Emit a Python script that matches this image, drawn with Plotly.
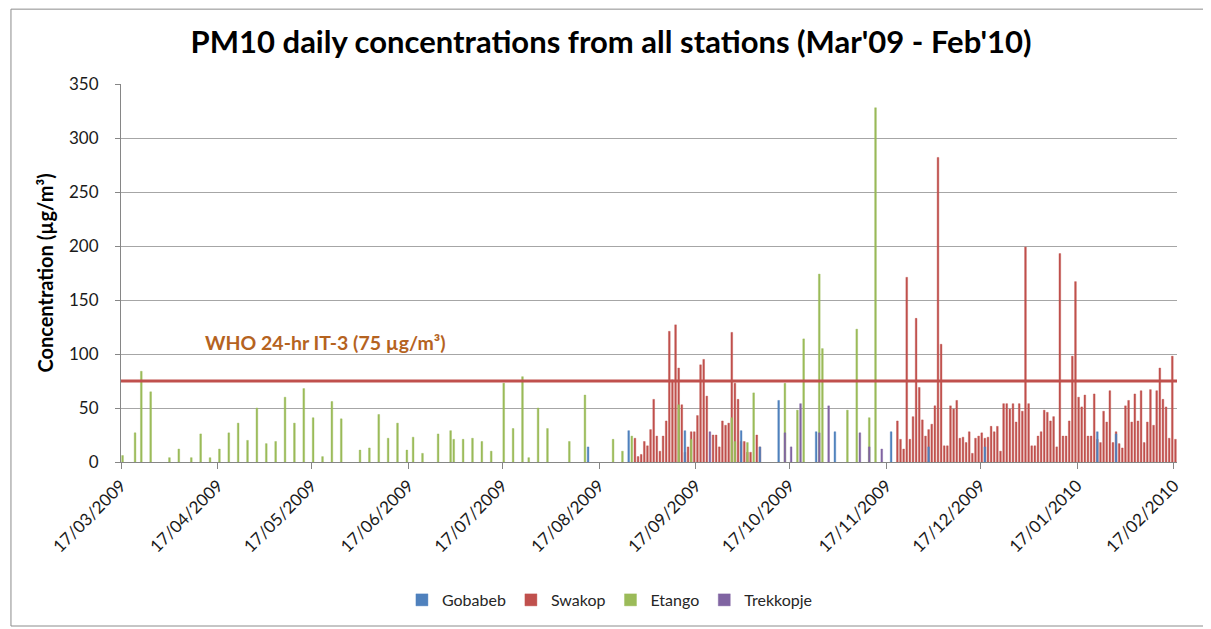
import plotly.graph_objects as go

# ---------------- data ----------------
gobabeb_dates = ["2009-08-13", "2009-08-26", "2009-09-13", "2009-10-01", "2009-10-07", "2009-10-13",
                 "2009-10-25", "2009-10-31", "2009-11-18", "2009-11-30", "2009-12-18", "2010-01-23",
                 "2010-01-29"]
gobabeb_values = [14, 29, 29, 29, 14, 57, 28, 28, 28, 14, 14, 28, 26]

swakop_dates = [
    "2009-08-28", "2009-08-29", "2009-08-30", "2009-08-31", "2009-09-01", "2009-09-02", "2009-09-03",
    "2009-09-04", "2009-09-05", "2009-09-06", "2009-09-07", "2009-09-08", "2009-09-09", "2009-09-10",
    "2009-09-11", "2009-09-12", "2009-09-13", "2009-09-14", "2009-09-15", "2009-09-16", "2009-09-17",
    "2009-09-18", "2009-09-19", "2009-09-20", "2009-09-22", "2009-09-23", "2009-09-24", "2009-09-25",
    "2009-09-26", "2009-09-27", "2009-09-28", "2009-09-29", "2009-09-30", "2009-10-01", "2009-10-02",
    "2009-10-03", "2009-10-04", "2009-10-06", "2009-10-07",
    "2009-11-20", "2009-11-21", "2009-11-22", "2009-11-23", "2009-11-24", "2009-11-25", "2009-11-26",
    "2009-11-27", "2009-11-28", "2009-11-29", "2009-11-30", "2009-12-01", "2009-12-02", "2009-12-03",
    "2009-12-04", "2009-12-05", "2009-12-06", "2009-12-07", "2009-12-08", "2009-12-09", "2009-12-10",
    "2009-12-11", "2009-12-12", "2009-12-13", "2009-12-14", "2009-12-15", "2009-12-16", "2009-12-17",
    "2009-12-18", "2009-12-19", "2009-12-20", "2009-12-21", "2009-12-22", "2009-12-23", "2009-12-24",
    "2009-12-25", "2009-12-26", "2009-12-27", "2009-12-28", "2009-12-29", "2009-12-30", "2009-12-31",
    "2010-01-01", "2010-01-02", "2010-01-03", "2010-01-04", "2010-01-05", "2010-01-06", "2010-01-07",
    "2010-01-08", "2010-01-09", "2010-01-10", "2010-01-11", "2010-01-12", "2010-01-13", "2010-01-14",
    "2010-01-15", "2010-01-16", "2010-01-17", "2010-01-18", "2010-01-19", "2010-01-20", "2010-01-21",
    "2010-01-22", "2010-01-23", "2010-01-24", "2010-01-25", "2010-01-26", "2010-01-27", "2010-01-28",
    "2010-01-29", "2010-01-30", "2010-01-31", "2010-02-01", "2010-02-02", "2010-02-03", "2010-02-04",
    "2010-02-05", "2010-02-06", "2010-02-07", "2010-02-08", "2010-02-09", "2010-02-10", "2010-02-11",
    "2010-02-12", "2010-02-13", "2010-02-14", "2010-02-15", "2010-02-16", "2010-02-17"]
swakop_values = [
    22, 5, 7, 19, 15, 30, 58,
    24, 10, 24, 38, 121, 76, 127,
    87, 53, 9, 14, 28, 28, 43,
    90, 95, 61, 25, 25, 14, 38,
    34, 36, 120, 73, 58, 19, 19,
    9, 9, 25, 14,
    38, 21, 12, 171, 21, 42, 133,
    69, 39, 24, 30, 35, 52, 282,
    109, 15, 15, 52, 49, 57, 22,
    23, 18, 28, 8, 22, 24, 27,
    22, 23, 33, 28, 33, 10, 54,
    54, 49, 54, 37, 54, 47, 199,
    54, 15, 15, 24, 28, 48, 46,
    38, 42, 14, 193, 24, 24, 38,
    98, 167, 60, 51, 62, 24, 24,
    63, 21, 18, 47, 37, 66, 18,
    28, 17, 13, 52, 57, 37, 63,
    38, 66, 18, 37, 67, 34, 66,
    87, 58, 51, 22, 98, 21]

etango_dates = [
    "2009-03-17", "2009-03-21", "2009-03-23", "2009-03-26", "2009-04-01", "2009-04-04", "2009-04-08",
    "2009-04-11", "2009-04-14", "2009-04-17", "2009-04-20", "2009-04-23", "2009-04-26", "2009-04-29",
    "2009-05-02", "2009-05-05", "2009-05-08", "2009-05-11", "2009-05-14", "2009-05-17", "2009-05-20",
    "2009-05-23", "2009-05-26", "2009-06-01", "2009-06-04", "2009-06-07", "2009-06-10", "2009-06-13",
    "2009-06-16", "2009-06-18", "2009-06-21", "2009-06-26", "2009-06-30", "2009-07-01", "2009-07-04",
    "2009-07-07", "2009-07-10", "2009-07-13", "2009-07-17", "2009-07-20", "2009-07-23", "2009-07-25",
    "2009-07-28", "2009-07-31", "2009-08-07", "2009-08-12", "2009-08-21", "2009-08-24", "2009-08-27",
    "2009-09-11", "2009-09-15", "2009-09-28", "2009-09-29", "2009-10-03", "2009-10-05", "2009-10-15",
    "2009-10-19", "2009-10-21", "2009-10-26", "2009-10-27", "2009-11-04", "2009-11-07", "2009-11-11",
    "2009-11-13"]
etango_values = [
    6, 27, 84, 65, 4, 12, 4,
    26, 4, 12, 27, 36, 20, 50,
    17, 19, 60, 36, 68, 41, 5,
    56, 40, 11, 13, 44, 22, 36,
    11, 23, 8, 26, 29, 21, 21,
    22, 19, 10, 73, 31, 79, 4,
    50, 31, 19, 62, 21, 10, 24,
    53, 21, 41, 19, 18, 64, 73,
    48, 114, 174, 105, 48, 123, 41,
    328]

trekkopje_dates = ["2009-09-21", "2009-10-15", "2009-10-17", "2009-10-20", "2009-10-26", "2009-10-29",
                   "2009-11-08", "2009-11-11", "2009-11-15"]
trekkopje_values = [28, 27, 14, 54, 27, 52, 27, 14, 12]

who_limit = 75
who_label = "WHO 24-hr IT-3 (75 µg/m³)"

tick_dates = ["2009-03-17", "2009-04-17", "2009-05-17", "2009-06-17", "2009-07-17", "2009-08-17",
              "2009-09-17", "2009-10-17", "2009-11-17", "2009-12-17", "2010-01-17", "2010-02-17"]
tick_labels = ["17/03/2009", "17/04/2009", "17/05/2009", "17/06/2009", "17/07/2009", "17/08/2009",
               "17/09/2009", "17/10/2009", "17/11/2009", "17/12/2009", "17/01/2010", "17/02/2010"]

# ---------------- figure ----------------
DAY_MS = 86400000
FONT = "Lato, 'Open Sans', sans-serif"

series = [
    # name, dates, values, colour, legend rank
    ("Swakop", swakop_dates, swakop_values, "#C0504D", 2),
    ("Etango", etango_dates, etango_values, "#9BBB59", 3),
    ("Gobabeb", gobabeb_dates, gobabeb_values, "#4F81BD", 1),
    ("Trekkopje", trekkopje_dates, trekkopje_values, "#8064A2", 4),
]

fig = go.Figure()
for name, dates, vals, col, rank in series:
    fig.add_trace(go.Bar(
        x=dates, y=vals, name=name,
        xperiod=DAY_MS, xperiodalignment="middle",
        width=0.55 * DAY_MS,
        marker=dict(color=col, line=dict(color=col, width=0.4)),
        legendrank=rank,
    ))

# WHO guideline line
fig.add_shape(type="line", xref="paper", x0=0, x1=1, yref="y", y0=who_limit, y1=who_limit,
              line=dict(color="#C0504D", width=3), layer="above")

fig.add_annotation(text="<b>" + who_label + "</b>", xref="paper", yref="paper",
                   x=0.0777, y=0.315, xanchor="left", yanchor="middle", showarrow=False,
                   font=dict(family=FONT, size=19.5, color="#B5631F"))

# chart area border
fig.add_shape(type="rect", xref="paper", yref="paper", x0=-0.1042, x1=1.0265, y0=-0.4339, y1=1.198,
              line=dict(color="#8C8C8C", width=1), fillcolor="rgba(0,0,0,0)", layer="below")

fig.update_layout(
    width=1211, height=629,
    margin=dict(l=113, r=42, t=76, b=175),
    paper_bgcolor="white", plot_bgcolor="white",
    barmode="overlay",
    font=dict(family=FONT, size=17, color="#262626"),
    title=dict(text="<b>PM10 daily concentrations from all stations (Mar'09 - Feb'10)</b>",
               x=0.498, xanchor="center", y=0.946, yanchor="middle", yref="container",
               font=dict(family=FONT, size=31, color="#000000")),
    legend=dict(orientation="h", x=0.463, xanchor="center", y=-0.365, yanchor="middle",
                font=dict(family=FONT, size=16, color="#262626"), traceorder="normal",
                itemwidth=30),
    showlegend=True,
)

fig.update_xaxes(
    type="date", range=["2009-03-17", "2010-02-18"],
    tickvals=tick_dates, ticktext=tick_labels, tickangle=-45,
    ticks="outside", ticklen=6, tickcolor="#868686",
    showline=True, linecolor="#868686", linewidth=1,
    showgrid=False, zeroline=False,
    tickfont=dict(family=FONT, size=17, color="#1A1A1A"),
)
fig.update_yaxes(
    range=[0, 350], dtick=50, tick0=0,
    ticks="outside", ticklen=5, tickcolor="#868686",
    showline=True, linecolor="#868686", linewidth=1,
    showgrid=True, gridcolor="#A6A6A6", gridwidth=1, zeroline=False,
    tickfont=dict(family=FONT, size=17, color="#1A1A1A"),
    ticklabelstandoff=13,
    title=dict(text="<b>Concentration (µg/m³)</b>", standoff=10,
               font=dict(family=FONT, size=20, color="#000000")),
)

fig.write_html("out.html")
